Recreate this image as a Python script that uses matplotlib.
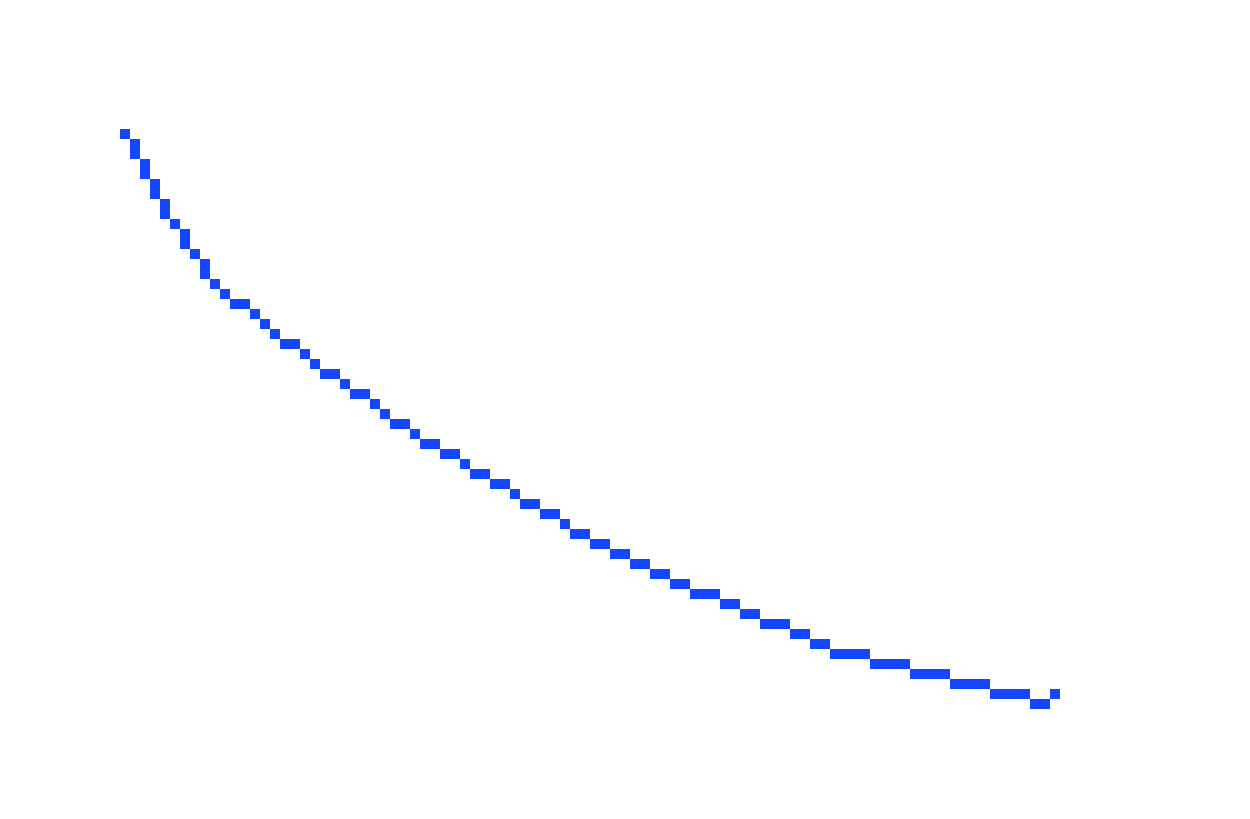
import numpy as np
import matplotlib
matplotlib.use("Agg")
import matplotlib.pyplot as plt
from matplotlib.colors import ListedColormap

# grid of 10px cells covering the 1250x820 canvas
GRID_W, GRID_H = 125, 82
CELL = 10

# one entry per filled column: first and last filled row
cols = list(range(12, 106))
row_start = [13, 14, 16, 18, 20, 22, 23, 25, 26, 28,
             29, 30, 30, 31, 32, 33, 34, 34, 35, 36,
             37, 37, 38, 39, 39, 40, 41, 42, 42, 43,
             44, 44, 45, 45, 46, 47, 47, 48, 48, 49,
             50, 50, 51, 51, 52, 53, 53, 54, 54, 55,
             55, 56, 56, 57, 57, 58, 58, 59, 59, 59,
             60, 60, 61, 61, 62, 62, 62, 63, 63, 64,
             64, 65, 65, 65, 65, 66, 66, 66, 66, 67,
             67, 67, 67, 68, 68, 68, 68, 69, 69, 69,
             69, 70, 70, 69]
row_end = [13, 15, 17, 19, 21, 22, 24, 25, 27, 28,
           29, 30, 30, 31, 32, 33, 34, 34, 35, 36,
           37, 37, 38, 39, 39, 40, 41, 42, 42, 43,
           44, 44, 45, 45, 46, 47, 47, 48, 48, 49,
           50, 50, 51, 51, 52, 53, 53, 54, 54, 55,
           55, 56, 56, 57, 57, 58, 58, 59, 59, 59,
           60, 60, 61, 61, 62, 62, 62, 63, 63, 64,
           64, 65, 65, 65, 65, 66, 66, 66, 66, 67,
           67, 67, 67, 68, 68, 68, 68, 69, 69, 69,
           69, 70, 70, 69]

grid = np.zeros((GRID_H, GRID_W))
for c, r0, r1 in zip(cols, row_start, row_end):
    grid[r0:r1 + 1, c] = 1

# blow each cell up to 10x10 pixels so it lands exactly on the pixel grid
img = np.kron(grid, np.ones((CELL, CELL)))

fig = plt.figure(figsize=(12.5, 8.2), dpi=100, facecolor="white")
fig.figimage(img, cmap=ListedColormap(["white", "#1446ff"]),
             vmin=0, vmax=1, origin="upper")
fig.savefig("out.png", dpi=100)
